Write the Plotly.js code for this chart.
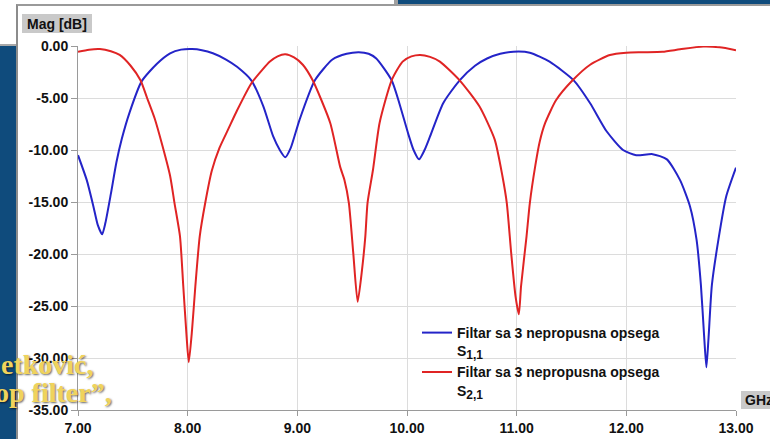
<!DOCTYPE html>
<html>
<head>
<meta charset="utf-8">
<script src="https://cdn.plot.ly/plotly-3.0.1.min.js"></script>
<style>
  html, body { margin: 0; padding: 0; width: 770px; height: 439px; overflow: hidden; background: #ffffff; }
  .slide-left { position: absolute; left: 0; top: 44px; width: 16px; height: 395px; background: #0f4b7c; border-top: 2px solid #a8a8a8; }
  .slide-top { position: absolute; left: 398px; top: 0; width: 372px; height: 4px; background: #0f4b7c; }
  .slide-mark { position: absolute; left: 394px; top: 0; width: 4px; height: 4px; background: #a0a0a0; }
  .panel { position: absolute; left: 16px; top: 4px; width: 754px; height: 435px; background: #ffffff; border-left: 2px solid #8c8c8c; border-top: 2px solid #9a9a9a; box-sizing: border-box; }
  #chart { position: absolute; left: 0; top: 0; width: 770px; height: 439px; }
</style>
</head>
<body>
<div class="slide-left"></div>
<div class="slide-top"></div>
<div class="slide-mark"></div>
<div class="panel"></div>
<div id="chart"></div>
<script>
// S11 of the three-notch filter (frequency in GHz, magnitude in dB)
const freqS11 = [7.00, 7.08, 7.14, 7.18, 7.22, 7.25, 7.30, 7.35, 7.40, 7.47, 7.58, 7.72, 7.84, 7.94, 8.04, 8.13, 8.23, 8.35, 8.45, 8.58, 8.69, 8.78, 8.84, 8.89, 8.94, 9.02, 9.16, 9.32, 9.45, 9.56, 9.65, 9.72, 9.86, 9.93, 10.01, 10.06, 10.11, 10.16, 10.21, 10.33, 10.48, 10.62, 10.73, 10.85, 10.97, 11.12, 11.30, 11.52, 11.67, 11.82, 11.97, 12.09, 12.24, 12.37, 12.49, 12.58, 12.64, 12.68, 12.71, 12.73, 12.75, 12.78, 12.84, 12.91, 13.00];
const magS11 = [-10.5, -12.9, -15.4, -17.2, -18.1, -17.0, -14.2, -11.2, -8.9, -6.4, -3.4, -1.7, -0.7, -0.35, -0.29, -0.4, -0.7, -1.3, -2.0, -3.3, -5.8, -8.7, -10.0, -10.7, -9.8, -7.1, -3.3, -1.3, -0.75, -0.6, -0.75, -1.2, -3.3, -5.5, -8.4, -10.0, -10.9, -10.0, -8.7, -5.5, -3.3, -1.9, -1.2, -0.75, -0.55, -0.64, -1.5, -3.3, -5.5, -8.2, -10.0, -10.5, -10.4, -10.9, -12.9, -15.4, -18.6, -23.0, -28.0, -30.9, -28.0, -23.0, -18.6, -14.5, -11.7];

// S21 of the same filter
const freqS21 = [7.00, 7.10, 7.20, 7.30, 7.38, 7.48, 7.57, 7.63, 7.70, 7.77, 7.84, 7.88, 7.93, 7.96, 7.99, 8.01, 8.04, 8.07, 8.11, 8.16, 8.22, 8.29, 8.37, 8.45, 8.58, 8.68, 8.75, 8.82, 8.89, 8.97, 9.05, 9.14, 9.30, 9.39, 9.43, 9.47, 9.51, 9.55, 9.59, 9.62, 9.64, 9.69, 9.75, 9.86, 9.96, 10.04, 10.12, 10.21, 10.30, 10.48, 10.66, 10.80, 10.87, 10.91, 10.95, 10.99, 11.02, 11.04, 11.09, 11.12, 11.17, 11.21, 11.26, 11.36, 11.51, 11.67, 11.85, 12.00, 12.15, 12.33, 12.49, 12.70, 12.85, 13.00];
const magS21 = [-0.55, -0.35, -0.29, -0.5, -0.86, -1.9, -3.3, -5.0, -7.0, -9.6, -12.5, -15.1, -18.3, -23.1, -27.9, -30.4, -27.3, -23.1, -18.3, -15.1, -12.0, -9.8, -8.0, -6.2, -3.6, -2.3, -1.5, -1.0, -0.8, -1.1, -1.8, -3.3, -7.4, -11.6, -12.9, -15.1, -19.9, -24.6, -21.5, -18.3, -15.1, -11.9, -7.4, -3.3, -1.5, -1.0, -0.86, -1.05, -1.5, -3.3, -5.8, -9.0, -12.5, -15.1, -19.9, -24.1, -25.8, -23.1, -18.3, -15.1, -11.5, -9.2, -7.4, -5.2, -3.3, -1.8, -0.86, -0.64, -0.6, -0.55, -0.32, -0.06, -0.13, -0.4];

const seriesNames = [
  'Filtar sa 3 nepropusna opsega<br>S<sub><span style="font-size:12px">1,1</span></sub>',
  'Filtar sa 3 nepropusna opsega<br>S<sub><span style="font-size:12px">2,1</span></sub>'
];

const xTickVals = [7, 8, 9, 10, 11, 12, 13];
const xTickText = ['7.00', '8.00', '9.00', '10.00', '11.00', '12.00', '13.00'];
const yTickVals = [0, -5, -10, -15, -20, -25, -30, -35];
const yTickText = ['0.00', '-5.00', '-10.00', '-15.00', '-20.00', '-25.00', '-30.00', '-35.00'];

// page geometry of the plotting area (pixels)
const W = 770, H = 439;
const M = { l: 78, r: 34, t: 46, b: 29 };
const plotW = W - M.l - M.r, plotH = H - M.t - M.b;
const px = v => (v - M.l) / plotW;          // page x -> paper x
const py = v => (H - M.b - v) / plotH;      // page y -> paper y

const labelFont = { family: 'Liberation Sans, Arial, sans-serif', size: 14, color: '#111111', weight: 700 };
const slideFont = { family: 'Liberation Serif, Times New Roman, serif', size: 28, color: '#f0d35c', weight: 700,
                    shadow: '1px 1px 2px rgba(0,0,0,0.6)' };

const traces = [
  { x: freqS11, y: magS11, name: seriesNames[0], type: 'scatter', mode: 'lines',
    line: { color: '#2424c8', width: 2, shape: 'spline', smoothing: 0.6 } },
  { x: freqS21, y: magS21, name: seriesNames[1], type: 'scatter', mode: 'lines',
    line: { color: '#e02424', width: 2, shape: 'spline', smoothing: 0.6 } }
];

const layout = {
  width: W, height: H,
  margin: M,
  paper_bgcolor: 'rgba(0,0,0,0)',
  plot_bgcolor: 'rgba(0,0,0,0)',
  showlegend: true,
  legend: {
    x: px(417), y: py(317), xanchor: 'left', yanchor: 'top',
    bgcolor: 'rgba(0,0,0,0)', borderwidth: 0,
    font: { family: 'Liberation Sans, Arial, sans-serif', size: 14, color: '#111111', weight: 700 },
    valign: 'top', tracegroupgap: 0
  },
  xaxis: {
    range: [7, 13], tickvals: xTickVals, ticktext: xTickText,
    showgrid: true, gridcolor: '#dcdcdc', gridwidth: 1, zeroline: false,
    showline: true, linecolor: '#9a9a9a', linewidth: 1,
    ticks: 'outside', ticklen: 5, tickcolor: '#9a9a9a',
    tickfont: labelFont
  },
  yaxis: {
    range: [-35, 0], tickvals: yTickVals, ticktext: yTickText,
    showgrid: true, gridcolor: '#dcdcdc', gridwidth: 1, zeroline: false,
    showline: true, linecolor: '#9a9a9a', linewidth: 1,
    ticks: 'outside', ticklen: 6, tickcolor: '#9a9a9a',
    tickfont: labelFont
  },
  shapes: [
    { type: 'rect', xref: 'paper', yref: 'paper', x0: px(22), x1: px(92), y0: py(33), y1: py(14),
      fillcolor: '#c9c9c9', line: { width: 0 }, layer: 'below' },
    { type: 'rect', xref: 'paper', yref: 'paper', x0: px(741), x1: px(776), y0: py(409), y1: py(391),
      fillcolor: '#c9c9c9', line: { width: 0 }, layer: 'below' }
  ],
  annotations: [
    { xref: 'paper', yref: 'paper', x: px(57), y: py(23.5), text: 'Mag [dB]', showarrow: false,
      xanchor: 'center', yanchor: 'middle', font: labelFont },
    { xref: 'paper', yref: 'paper', x: px(743), y: py(400), text: 'GHz', showarrow: false,
      xanchor: 'left', yanchor: 'middle', font: labelFont },
    { xref: 'paper', yref: 'paper', x: px(-1), y: py(364), text: 'etković,', showarrow: false,
      xanchor: 'left', yanchor: 'middle', font: slideFont },
    { xref: 'paper', yref: 'paper', x: px(-7), y: py(392), text: 'op filter”,', showarrow: false,
      xanchor: 'left', yanchor: 'middle', font: slideFont }
  ]
};

Plotly.newPlot('chart', traces, layout, { staticPlot: true, displayModeBar: false });
</script>
</body>
</html>
